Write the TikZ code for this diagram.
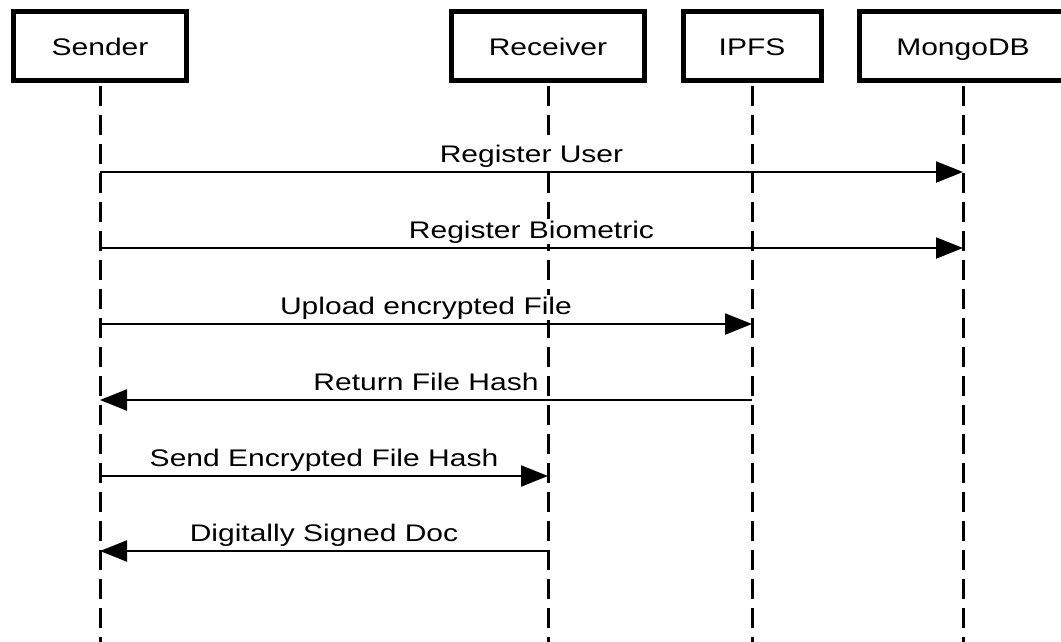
\documentclass[tikz,border=0pt]{standalone}
\usepackage{fontspec}
\setmainfont{Liberation Sans}[FakeStretch=1.25]
\usetikzlibrary{arrows.meta}
\begin{document}
\begin{tikzpicture}[x=1pt,y=-1pt,
  actor/.style={draw=black, line width=5pt, fill=white, inner sep=0pt, font=\fontsize{24}{28}\selectfont},
  lifeline/.style={line width=3pt, dash pattern=on 20pt off 9pt},
  msg/.style={line width=2.2pt, -{Triangle[length=27pt,width=21pt]}},
  lbl/.style={anchor=base, yshift=10pt, fill=white, inner sep=1.5pt, font=\fontsize{24}{28}\selectfont}]
\useasboundingbox[fill=white] (0,0) rectangle (1061,641);
% actors
\node[actor, minimum width=173pt, minimum height=69pt] (sender) at (100,46) {};
\node[actor, minimum width=193pt, minimum height=69pt] (receiver) at (548,46) {};
\node[actor, minimum width=138pt, minimum height=69pt] (ipfs) at (752,46) {};
\node[actor, minimum width=207pt, minimum height=69pt] (mongo) at (963,46) {};
\node[anchor=base, inner sep=0pt, font=\fontsize{24}{28}\selectfont] (tsender) at (100,55) {Sender};
\node[anchor=base, inner sep=0pt, font=\fontsize{24}{28}\selectfont] (treceiver) at (548,55) {Receiver};
\node[anchor=base, inner sep=0pt, font=\fontsize{24}{28}\selectfont] (tipfs) at (752,55) {IPFS};
\node[anchor=base, inner sep=0pt, font=\fontsize{24}{28}\selectfont] (tmongo) at (963,55) {MongoDB};
% lifeline ends
\coordinate (sEnd) at (100,660);
\coordinate (rEnd) at (548,660);
\coordinate (iEnd) at (752,660);
\coordinate (mEnd) at (963,660);
\draw[lifeline] ([yshift=-2.5pt]sender.south) -- (sEnd);
\draw[lifeline] ([yshift=-2.5pt]receiver.south) -- (rEnd);
\draw[lifeline] ([yshift=-2.5pt]ipfs.south) -- (iEnd);
\draw[lifeline] ([yshift=-2.5pt]mongo.south) -- (mEnd);
% message points
\coordinate (s1) at (100,172); \coordinate (m1) at (963,172);
\coordinate (s2) at (100,248); \coordinate (m2) at (963,248);
\coordinate (s3) at (100,324); \coordinate (i3) at (752,324);
\coordinate (s4) at (100,400); \coordinate (i4) at (752,400);
\coordinate (s5) at (100,476); \coordinate (r5) at (548,476);
\coordinate (s6) at (100,551); \coordinate (r6) at (548,551);
\draw[msg] (s1) -- (m1) node[lbl, midway] {Register User};
\draw[msg] (s2) -- (m2) node[lbl, midway] {Register Biometric};
\draw[msg] (s3) -- (i3) node[lbl, midway] {Upload encrypted File};
\draw[msg] (i4) -- (s4) node[lbl, midway] {Return File Hash};
\draw[msg] (s5) -- (r5) node[lbl, midway] {Send Encrypted File Hash};
\draw[msg] (r6) -- (s6) node[lbl, midway] {Digitally Signed Doc};
\end{tikzpicture}
\end{document}
